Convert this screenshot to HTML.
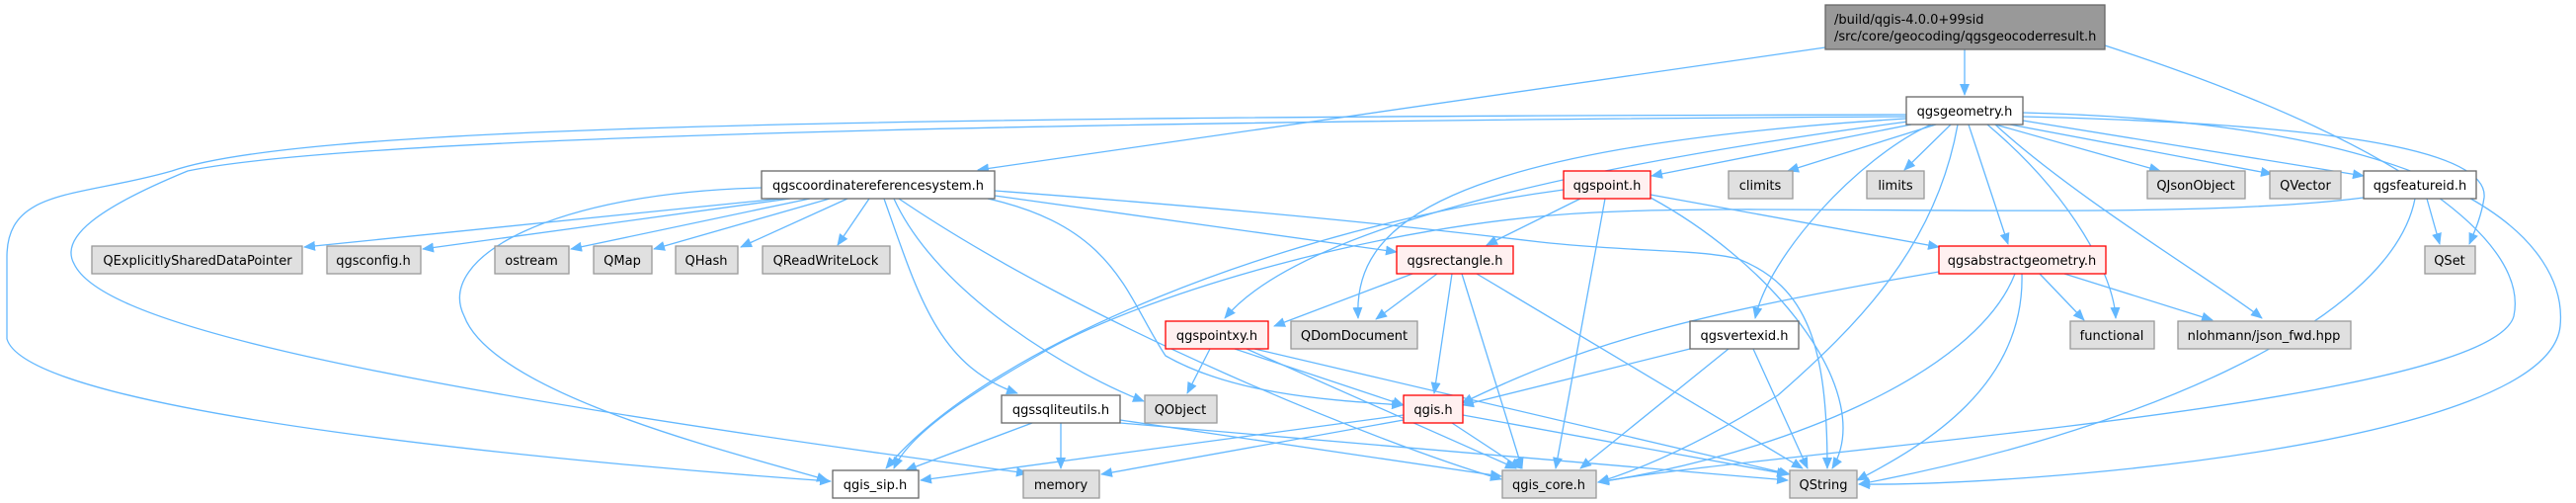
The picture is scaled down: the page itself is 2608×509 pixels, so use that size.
<!DOCTYPE html>
<html><head><meta charset="utf-8"><style>
html,body{margin:0;padding:0;background:#fff;}
svg{display:block;}
text{font-family:"DejaVu Sans","Liberation Sans",sans-serif;font-size:13px;fill:#000;}
.e{fill:none;stroke:#63b8ff;stroke-width:1.3;}
</style></head><body>
<svg width="2608" height="509" viewBox="0 0 2608 509" xmlns="http://www.w3.org/2000/svg">
<defs><marker id="a" markerWidth="12" markerHeight="10" refX="11" refY="5" orient="auto" markerUnits="userSpaceOnUse"><path d="M0,0 L12,5 L0,10 z" fill="#63b8ff"/></marker></defs>
<g marker-end="url(#a)">
<!-- root -->
<path class="e" d="M1989,50 L1989,96"/>
<path class="e" d="M1848,48 L990,172"/>
<path class="e" d="M2131,46 C2450,150 2560,250 2545,320 C2520,410 1800,455 1618,488"/>
<!-- geometry -->
<path class="e" d="M1935,126 L1672,178"/>
<path class="e" d="M1960,126 L1810,173"/>
<path class="e" d="M1975,126 L1928,172"/>
<path class="e" d="M2020,126 L2187,173"/>
<path class="e" d="M2035,126 L2300,176"/>
<path class="e" d="M2048,122 L2393,178"/>
<path class="e" d="M2048,118 C2350,125 2520,150 2515,200 C2512,220 2505,235 2500,247"/>
<path class="e" d="M2048,114 C2500,125 2600,250 2592,330 C2580,450 2050,492 1882,490"/>
<path class="e" d="M1993,126 L2033,247"/>
<path class="e" d="M2012,126 C2100,200 2140,280 2142,322"/>
<path class="e" d="M2020,126 C2100,200 2250,290 2290,322"/>
<path class="e" d="M1955,126 C1880,160 1790,260 1777,322"/>
<path class="e" d="M1982,126 C1960,250 1880,330 1800,400 C1720,450 1660,475 1618,488"/>
<path class="e" d="M1930,120 C1450,150 1370,230 1375,322"/>
<path class="e" d="M1932,123 C1500,180 1300,250 1240,322"/>
<path class="e" d="M1930,116 C800,118 300,130 174,173 C80,200 7,190 7,260 L7,343 C30,420 600,470 841,487"/>
<path class="e" d="M1930,118 C700,125 300,150 190,173 C100,210 60,240 75,267 C100,320 300,380 1040,479"/>
<!-- crs -->
<path class="e" d="M790,201 L308,250"/>
<path class="e" d="M800,201 L428,252"/>
<path class="e" d="M820,201 L578,252"/>
<path class="e" d="M840,201 L662,252"/>
<path class="e" d="M858,201 L750,250"/>
<path class="e" d="M880,201 L848,248"/>
<path class="e" d="M1007,198 L1414,255"/>
<path class="e" d="M1007,193 C1300,215 1450,232 1560,245 C1650,255 1720,252 1760,262 C1830,290 1850,350 1850,474"/>
<path class="e" d="M771,190 C560,195 440,260 470,320 C500,400 750,460 838,486"/>
<path class="e" d="M895,201 C930,300 950,370 1030,398"/>
<path class="e" d="M905,201 C950,300 1090,380 1158,406"/>
<path class="e" d="M910,201 C1100,330 1400,450 1520,485"/>
<path class="e" d="M1000,201 C1130,230 1140,300 1180,360 C1250,400 1350,405 1420,410"/>
<!-- qgspoint -->
<path class="e" d="M1600,201 L1505,248"/>
<path class="e" d="M1671,197 L1963,250"/>
<path class="e" d="M1625,201 L1575,474"/>
<path class="e" d="M1671,200 C1800,270 1900,400 1855,474"/>
<path class="e" d="M1583,192 C1300,230 1000,350 897,474"/>
<!-- featureid -->
<path class="e" d="M2457,201 L2470,247"/>
<path class="e" d="M2445,201 C2420,330 2150,440 1882,490"/>
<path class="e" d="M2393,200 C2200,225 1800,205 1615,215 C1400,225 1150,300 1050,360 C980,400 920,440 905,474"/>
<!-- rectangle -->
<path class="e" d="M1455,277 L1393,323"/>
<path class="e" d="M1430,277 L1290,330"/>
<path class="e" d="M1470,277 L1452,398"/>
<path class="e" d="M1480,277 L1541,474"/>
<path class="e" d="M1495,277 L1825,474"/>
<!-- abstract geometry -->
<path class="e" d="M2065,277 L2110,324"/>
<path class="e" d="M2090,277 L2240,324"/>
<path class="e" d="M1963,275 C1700,320 1600,350 1480,408"/>
<path class="e" d="M2040,277 C2000,380 1800,460 1618,488"/>
<path class="e" d="M2047,277 C2050,390 1950,450 1880,486"/>
<!-- pointxy -->
<path class="e" d="M1225,353 L1202,398"/>
<path class="e" d="M1250,353 L1421,410"/>
<path class="e" d="M1262,353 L1535,474"/>
<path class="e" d="M1270,353 L1812,480"/>
<!-- vertexid -->
<path class="e" d="M1711,353 L1481,410"/>
<path class="e" d="M1750,353 L1600,474"/>
<path class="e" d="M1775,353 L1830,474"/>
<!-- sqliteutils -->
<path class="e" d="M1045,428 L917,476"/>
<path class="e" d="M1074,428 L1074,474"/>
<path class="e" d="M1134,425 L1520,482"/>
<path class="e" d="M1134,428 L1810,486"/>
<!-- qgis.h -->
<path class="e" d="M1421,420 L932,486"/>
<path class="e" d="M1421,425 L1115,480"/>
<path class="e" d="M1470,428 L1540,474"/>
<path class="e" d="M1481,420 L1810,480"/>
</g>
<!-- nodes -->
<g stroke-width="1.3">
<rect x="1848" y="5" width="283" height="45" fill="#999" stroke="#666"/>
<text x="1857" y="24">/build/qgis-4.0.0+99sid</text>
<text x="1857" y="41">/src/core/geocoding/qgsgeocoderresult.h</text>
<g fill="#fff" stroke="#666">
<rect x="1930" y="98" width="118" height="28"/>
<rect x="771" y="173" width="236" height="28"/>
<rect x="2393" y="173" width="114" height="28"/>
<rect x="1711" y="325" width="110" height="28"/>
<rect x="1014" y="400" width="120" height="28"/>
<rect x="843" y="476" width="87" height="28"/>
</g>
<g fill="#fff0f0" stroke="#f00">
<rect x="1583" y="173" width="88" height="28"/>
<rect x="1414" y="249" width="118" height="28"/>
<rect x="1963" y="249" width="169" height="28"/>
<rect x="1180" y="325" width="104" height="28"/>
<rect x="1421" y="400" width="60" height="28"/>
</g>
<g fill="#e0e0e0" stroke="#999">
<rect x="1750" y="173" width="65" height="28"/>
<rect x="1890" y="173" width="58" height="28"/>
<rect x="2174" y="173" width="99" height="28"/>
<rect x="2298" y="173" width="72" height="28"/>
<rect x="93" y="249" width="213" height="28"/>
<rect x="331" y="249" width="95" height="28"/>
<rect x="501" y="249" width="75" height="28"/>
<rect x="601" y="249" width="59" height="28"/>
<rect x="684" y="249" width="63" height="28"/>
<rect x="772" y="249" width="129" height="28"/>
<rect x="2455" y="249" width="51" height="28"/>
<rect x="1307" y="325" width="128" height="28"/>
<rect x="2096" y="325" width="85" height="28"/>
<rect x="2205" y="325" width="175" height="28"/>
<rect x="1159" y="400" width="73" height="28"/>
<rect x="1036" y="476" width="77" height="28"/>
<rect x="1521" y="476" width="95" height="28"/>
<rect x="1812" y="476" width="68" height="28"/>
</g>
</g>
<g text-anchor="middle">
<text x="1989" y="117">qgsgeometry.h</text>
<text x="889" y="192">qgscoordinatereferencesystem.h</text>
<text x="2450" y="192">qgsfeatureid.h</text>
<text x="1766" y="344">qgsvertexid.h</text>
<text x="1074" y="419">qgssqliteutils.h</text>
<text x="886" y="495">qgis_sip.h</text>
<text x="1627" y="192">qgspoint.h</text>
<text x="1473" y="268">qgsrectangle.h</text>
<text x="2047" y="268">qgsabstractgeometry.h</text>
<text x="1232" y="344">qgspointxy.h</text>
<text x="1451" y="419">qgis.h</text>
<text x="1782" y="192">climits</text>
<text x="1919" y="192">limits</text>
<text x="2223" y="192">QJsonObject</text>
<text x="2334" y="192">QVector</text>
<text x="200" y="268">QExplicitlySharedDataPointer</text>
<text x="378" y="268">qgsconfig.h</text>
<text x="538" y="268">ostream</text>
<text x="630" y="268">QMap</text>
<text x="715" y="268">QHash</text>
<text x="836" y="268">QReadWriteLock</text>
<text x="2480" y="268">QSet</text>
<text x="1371" y="344">QDomDocument</text>
<text x="2138" y="344">functional</text>
<text x="2292" y="344">nlohmann/json_fwd.hpp</text>
<text x="1195" y="419">QObject</text>
<text x="1074" y="495">memory</text>
<text x="1568" y="495">qgis_core.h</text>
<text x="1846" y="495">QString</text>
</g>
</svg>
</body></html>
